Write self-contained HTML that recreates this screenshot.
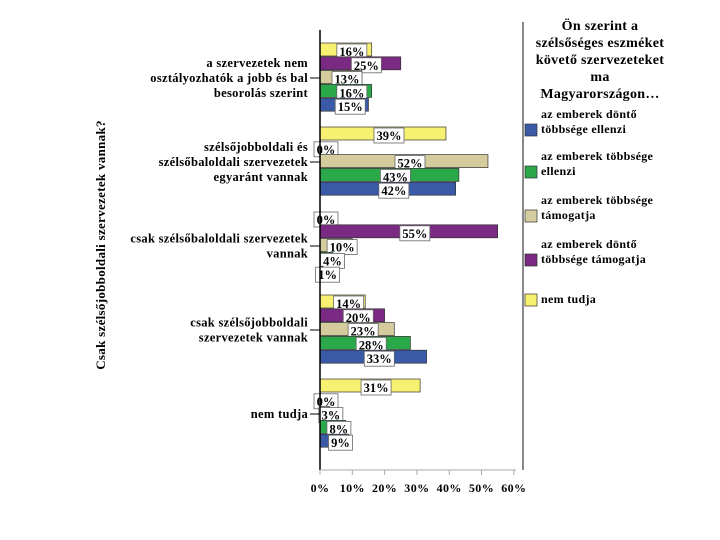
<!DOCTYPE html>
<html><head><meta charset="utf-8"><style>
body{margin:0;background:#fff;}
svg{display:block;font-family:"Liberation Serif",serif;font-weight:bold;}
</style></head><body>
<svg id="c" width="720" height="540" viewBox="0 0 720 540">
<line x1="523" y1="22" x2="523" y2="470" stroke="#888" stroke-width="2"/>
<g id="bars"></g>
<line x1="320" y1="30" x2="320" y2="470" stroke="#000" stroke-width="1.5"/>
<line x1="320" y1="470" x2="516" y2="470" stroke="#aaa" stroke-width="1"/>
<g id="xticks" font-size="12" letter-spacing="0.4"></g>
<g id="cats" font-size="12.5" text-anchor="end" letter-spacing="0.3"></g>
<text transform="translate(105,245) rotate(-90)" text-anchor="middle" font-size="13" letter-spacing="0.3">Csak szélsőjobboldali szervezetek vannak?</text>
<g font-size="14" text-anchor="middle" letter-spacing="0.3">
<text x="600" y="30">Ön szerint a</text>
<text x="600" y="47">szélsőséges eszméket</text>
<text x="600" y="64">követő szervezeteket</text>
<text x="600" y="81">ma</text>
<text x="600" y="98">Magyarországon…</text>
</g>
<g id="legend" font-size="12" letter-spacing="0.3"></g>
</svg>
<script>
const categories=["a szervezetek nem|osztályozhatók a jobb és bal|besorolás szerint","szélsőjobboldali és|szélsőbaloldali szervezetek|egyaránt vannak","csak szélsőbaloldali szervezetek|vannak","csak szélsőjobboldali|szervezetek vannak","nem tudja"];
const seriesNames=["nem tudja","az emberek döntő|többsége támogatja","az emberek többsége|támogatja","az emberek többsége|ellenzi","az emberek döntő|többsége ellenzi"];
const nemTudja=[16,39,0,14,31];
const donteTamogatja=[25,0,55,20,0];
const tobbTamogatja=[13,52,10,23,3];
const tobbEllenzi=[16,43,4,28,8];
const donteEllenzi=[15,42,1,33,9];
const xTicks=[0,10,20,30,40,50,60];
const series=[nemTudja,donteTamogatja,tobbTamogatja,tobbEllenzi,donteEllenzi];
const colors=["#f8f070","#7a2a82","#d4cc9c","#2aa84a","#3a5aa8"];
const NS="http://www.w3.org/2000/svg";
const x=v=>320+v*3.23;
const gTop=i=>43+i*84;
function mk(tag,attrs,parent,txt){const e=document.createElementNS(NS,tag);for(const k in attrs)e.setAttribute(k,attrs[k]);if(txt!=null)e.textContent=txt;parent.appendChild(e);return e;}
const bars=document.getElementById('bars');
categories.forEach((c,i)=>{
  series.forEach((s,j)=>{
    const y=gTop(i)+j*13.8;
    const r=mk('rect',{x:320,y:y,width:Math.max(x(s[i])-320,0.5),height:13,fill:colors[j],stroke:'#333','stroke-width':0.7},bars);
    
    
    const w=s[i]>=10?30:24;
    const cx=Math.max(x(s[i]/2)+6,320+w/2-10);
    const lb=mk('rect',{x:cx-w/2,y:y+1,width:w,height:15,fill:'#fff',stroke:'#666','stroke-width':0.8},bars);
    
    
    const t=mk('text',{x:cx,y:y+13,'text-anchor':'middle','font-size':12.5},bars,s[i]+'%');
    
    
  });
  const cy=gTop(i)+35;
  const tk=mk('line',{x1:310,y1:cy,x2:320,y2:cy,stroke:'#000'},bars);
  
  
  const lines=c.split('|');
  const cg=document.getElementById('cats');
  lines.forEach((l,k)=>{
    const t=mk('text',{x:308,y:cy+4+(k-(lines.length-1)/2)*15},cg,l);
    
    
  });
});
const xt=document.getElementById('xticks');
xTicks.forEach(v=>{
  const l=mk('line',{x1:x(v),y1:470,x2:x(v),y2:475,stroke:'#aaa'},xt);
  
  
  const t=mk('text',{x:x(v),y:492,'text-anchor':'middle'},xt,v+'%');
  
  
});
const lg=document.getElementById('legend');
const order=[4,3,2,1,0];const ly=[124,166,210,254,294];
order.forEach((j,k)=>{
  const r=mk('rect',{x:525,y:ly[k],width:12,height:12,fill:colors[j],stroke:'#333','stroke-width':0.7},lg);
  
  
  const lines=seriesNames[j].split('|');
  lines.forEach((l,m)=>{
    const t=mk('text',{x:541,y:ly[k]-(lines.length-1)*15+m*15+9},lg,l);
    
    
  });
});
</script>
</body></html>
